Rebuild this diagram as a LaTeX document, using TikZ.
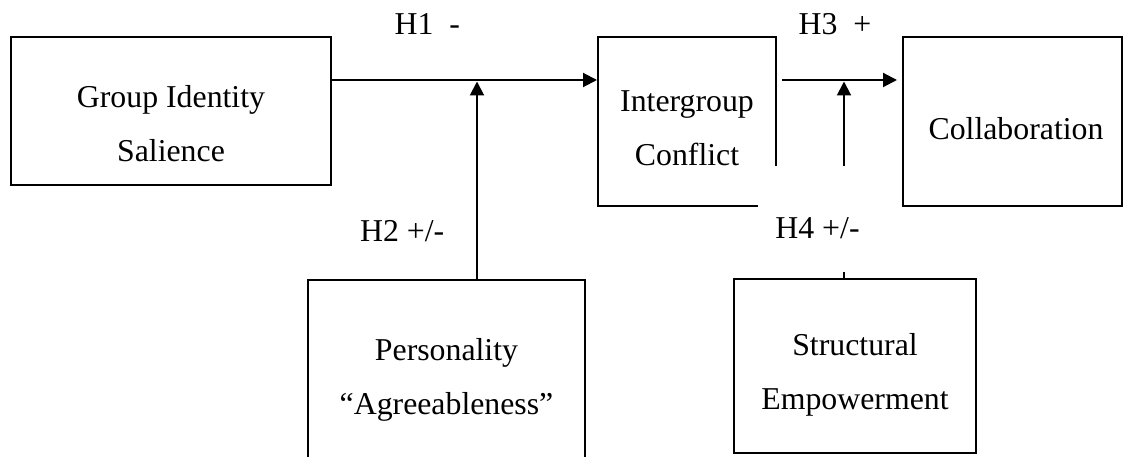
\documentclass[tikz,border=0pt]{standalone}
\usepackage{fontspec}
\setmainfont{Liberation Serif}
\usetikzlibrary{arrows.meta}

\begin{document}
\begin{tikzpicture}[x=1pt, y=-1pt,
      box/.style={draw=black, line width=2pt, inner sep=0pt},
      boxtext/.style={align=center, inner sep=0pt, font=\fontsize{31.8}{54}\selectfont},
      hyp/.style={inner sep=0pt, font=\fontsize{31.8}{38}\selectfont},
      arrow/.style={-{Triangle[length=14pt, width=14pt]}, line width=2pt}
    ]
    \useasboundingbox (0,0) rectangle (1123,457);

    \node[box, minimum width=320pt, minimum height=148pt] (gis) at (171,111) {};
    \node[box, minimum width=178pt, minimum height=169pt] (igc) at (687,121.5) {};
    \node[box, minimum width=219pt, minimum height=169pt] (col) at (1012.5,121.5) {};
    \node[box, minimum width=277pt, minimum height=200pt] (pers) at (446.5,380) {};
    \node[box, minimum width=242pt, minimum height=174pt] (sem) at (855,366) {};

    \node[boxtext] (gisText) at (171,123.7) {Group Identity\\Salience};
    \node[boxtext] (igcText) at (687,128.5) {Intergroup\\Conflict};
    \node[boxtext] (colText) at (1016,129) {Collaboration};
    \node[boxtext] (persText) at (446.5,379.6) {Personality\\“Agreeableness”};
    \node[boxtext] (semText) at (855,375) {Structural\\Empowerment};

    \coordinate (m1) at (477,80);
    \coordinate (m2) at (844,80);

    \draw[arrow] (gis.east |- m1) -- (igc.west |- m1);
    \draw[arrow, shorten >=1.5pt] (pers.north -| m1) -- (m1);
    \draw[arrow, shorten <=5pt, shorten >=5pt] (igc.east |- m1) -- (col.west |- m1);
    \draw[arrow, shorten >=1.5pt] (sem.north -| m2) -- (m2);

    \node[hyp, anchor=base west] (h1) at (394.5,35) {H1\ \ -};
    \node[hyp, anchor=base west] (h3) at (798.5,35) {H3\ \ +};
    \node[hyp, anchor=base east] (h2) at (444.5,241) {H2 +/-};
    \node[hyp, fill=white, anchor=base, minimum width=120pt, text height=72pt, text depth=34pt] (h4) at (817.5,238) {H4 +/-};
  \end{tikzpicture}
\end{document}
